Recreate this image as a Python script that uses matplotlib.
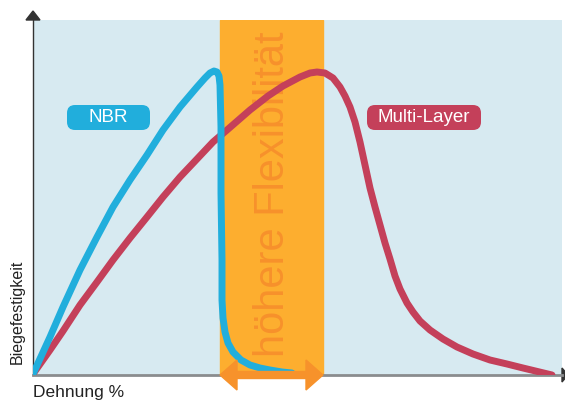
import matplotlib
matplotlib.use('Agg')
import matplotlib.pyplot as plt
from matplotlib.patches import Rectangle, FancyBboxPatch, Polygon

plt.rcParams['font.family'] = ['Liberation Sans', 'DejaVu Sans']

# 数据（像素读取 -> 数据坐标: x = px - 33, y = 375 - py）
nbr_px = [33, 50, 63, 80, 97, 113, 130, 147, 163, 180, 197, 205, 210, 214, 217, 219, 220, 221, 221, 222, 222, 223, 225, 228, 233, 241, 250, 260, 270, 282, 292]
nbr_py = [374, 337, 307, 270, 237, 207, 180, 155, 130, 107, 87, 78, 73, 71, 72, 76, 85, 127, 193, 260, 300, 318, 332, 343, 352, 360, 365, 368, 370, 372, 373]

ml_px = [33, 50, 63, 80, 97, 113, 130, 147, 163, 180, 197, 213, 227, 250, 268, 283, 300, 310, 317, 325, 333, 340, 345, 350, 355, 360, 365, 370, 375, 380, 385, 390, 395, 400, 407, 413, 420, 430, 443, 457, 473, 490, 507, 523, 552]
ml_py = [374, 350, 331, 305, 282, 260, 238, 217, 197, 177, 159, 142, 130, 110, 96, 86, 77, 73, 72, 73, 78, 87, 96, 107, 122, 142, 165, 188, 207, 225, 243, 259, 276, 289, 303, 312, 321, 330, 339, 347, 354, 360, 364, 368, 375]

x_nbr = [p - 33 for p in nbr_px]
y_nbr = [375 - p for p in nbr_py]
x_ml = [p - 33 for p in ml_px]
y_ml = [375 - p for p in ml_py]

band_x = [187, 290]   # höhere Flexibilität Bereich

fig = plt.figure(figsize=(5.65, 4.0), dpi=100)
ax = fig.add_axes([33 / 565, 25 / 400, 529 / 565, 355 / 400])
ax.set_xlim(0, 529)
ax.set_ylim(0, 355)
ax.set_facecolor('#D7EAF1')
for s in ['top', 'right']:
    ax.spines[s].set_visible(False)
ax.spines['left'].set_color('#333333')
ax.spines['bottom'].set_color('#8A8C8E')
ax.spines['bottom'].set_linewidth(2)
ax.spines['left'].set_linewidth(1)
ax.set_xticks([])
ax.set_yticks([])

# 橙色区域
ax.add_patch(Rectangle((band_x[0], 0), band_x[1] - band_x[0], 355, color='#FDAE2F', zorder=1))
ax.text(240, 181, 'höhere Flexibilität', rotation=90,
        ha='center', va='center', fontsize=30, color='#F7912B', zorder=2)

# 曲线
ax.plot(x_nbr, y_nbr, color='#21AEDC', lw=5, solid_capstyle='round', solid_joinstyle='round', zorder=4)
ax.plot(x_ml, y_ml, color='#C4405A', lw=5, solid_capstyle='round', solid_joinstyle='round', zorder=3)

# 标签
ax.add_patch(FancyBboxPatch((34, 245), 83, 25, boxstyle='round,pad=0,rounding_size=8',
                            fc='#21AEDC', ec='none', zorder=5))
ax.text(75.5, 257.5, 'NBR', ha='center', va='center', fontsize=13.5, color='white', zorder=6)
ax.add_patch(FancyBboxPatch((334, 245), 114, 25, boxstyle='round,pad=0,rounding_size=8',
                            fc='#C4405A', ec='none', zorder=5))
ax.text(391, 257.5, 'Multi-Layer', ha='center', va='center', fontsize=13.5, color='white', zorder=6)

# 双向箭头
a0, a1 = band_x[0], band_x[1]
hl, hw, sw = 17, 15, 3.5
ax.add_patch(Polygon([[a0, 0], [a0 + hl, hw], [a0 + hl, sw], [a1 - hl, sw], [a1 - hl, hw], [a1, 0],
                      [a1 - hl, -hw], [a1 - hl, -sw], [a0 + hl, -sw], [a0 + hl, -hw]],
                     closed=True, color='#F7922B', clip_on=False, zorder=6))

# 坐标轴箭头
ax.add_patch(Polygon([[-7, 355], [7, 355], [0, 364]], closed=True, color='#333333', clip_on=False))
ax.add_patch(Polygon([[529, -7], [529, 7], [535, 0]], closed=True, color='#333333', clip_on=False))

fig.text(17 / 565, 1 - 312 / 400, 'Biegefestigkeit', rotation=90, ha='center', va='center',
         fontsize=11.5, color='#222222')
fig.text(33 / 565, 1 - 397 / 400, 'Dehnung %', ha='left', va='baseline', fontsize=12.5, color='#222222')

fig.savefig('out.png', dpi=100)
